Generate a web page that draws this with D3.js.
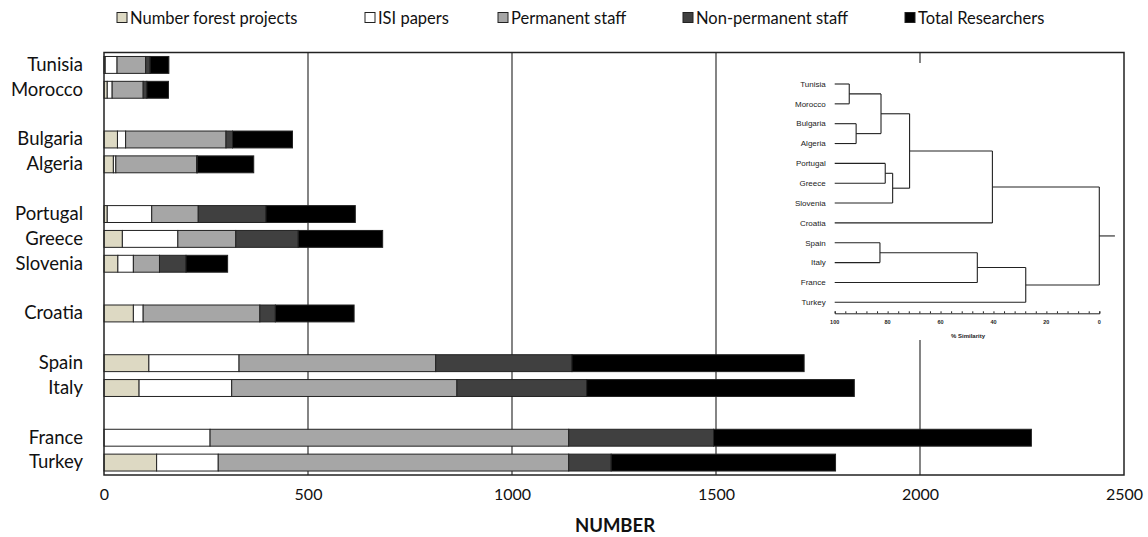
<!DOCTYPE html>
<html><head><meta charset="utf-8">
<script src="https://cdn.jsdelivr.net/npm/d3@7"></script>
<style>
html,body{margin:0;padding:0;background:#fff;}
svg{display:block;}
</style></head>
<body>
<svg id="chart" width="1148" height="537"></svg>
<script>
// ---- Data ----
const categories = ["Tunisia","Morocco","","Bulgaria","Algeria","","Portugal","Greece","Slovenia","","Croatia","","Spain","Italy","","France","Turkey"];
const seriesNames = ["Number forest projects","ISI papers","Permanent staff","Non-permanent staff","Total Researchers"];
const forestProjects = [3, 8, null, 33, 23, null, 8, 45, 34, null, 72, null, 110, 86, null, 0, 129];
const isiPapers      = [29, 12, null, 20, 6, null, 109, 136, 38, null, 24, null, 221, 227, null, 260, 151];
const permanentStaff = [70, 76, null, 246, 198, null, 114, 142, 64, null, 286, null, 482, 552, null, 879, 859];
const nonPermanent   = [11, 9, null, 16, 2, null, 166, 153, 65, null, 38, null, 334, 318, null, 355, 104];
const totalResearch  = [46, 53, null, 147, 138, null, 219, 207, 102, null, 193, null, 569, 656, null, 779, 550];
const xTicks = [0, 500, 1000, 1500, 2000, 2500];

// Dendrogram (inset): leaf order and merge similarities (%)
const dendroLeaves = ["Tunisia","Morocco","Bulgaria","Algeria","Portugal","Greece","Slovenia","Croatia","Spain","Italy","France","Turkey"];
const dendroTree = {sim: 0, children: [
  {sim: 40.4, children: [
    {sim: 71.7, children: [
      {sim: 82.5, children: [
        {sim: 94.5, children: [{name:"Tunisia"},{name:"Morocco"}]},
        {sim: 91.9, children: [{name:"Bulgaria"},{name:"Algeria"}]}
      ]},
      {sim: 78.1, children: [
        {sim: 80.9, children: [{name:"Portugal"},{name:"Greece"}]},
        {name:"Slovenia"}
      ]}
    ]},
    {name:"Croatia"}
  ]},
  {sim: 27.8, children: [
    {sim: 46.1, children: [
      {sim: 82.9, children: [{name:"Spain"},{name:"Italy"}]},
      {name:"France"}
    ]},
    {name:"Turkey"}
  ]}
]};
const simTicks = [100, 80, 60, 40, 20, 0];

// ---- Layout ----
const colors = ["#DDD9C3", "#FFFFFF", "#A6A6A6", "#404040", "#000000"];
const svg = d3.select("#chart");
const M = {left: 104, top: 52.5, right: 24, bottom: 62};
const W = 1148, H = 537;
const x = d3.scaleLinear().domain([0, 2500]).range([M.left, W - M.right]);
const y = d3.scaleBand().domain(d3.range(categories.length)).range([M.top, H - M.bottom])
  .paddingInner(0.32).paddingOuter(0.16);

const FONT = "Lato, 'Open Sans', sans-serif";

// gridlines
svg.append("g").selectAll("line").data(xTicks.slice(1, -1)).join("line")
  .attr("x1", d => x(d)).attr("x2", d => x(d))
  .attr("y1", M.top).attr("y2", H - M.bottom)
  .attr("stroke", "#333").attr("stroke-width", 1.2);

// stacked bars
const rows = categories.map((c, i) => ({i, c, vals: [forestProjects[i], isiPapers[i], permanentStaff[i], nonPermanent[i], totalResearch[i]]}))
  .filter(r => r.c !== "");
const segs = [];
rows.forEach(r => {
  let acc = 0;
  r.vals.forEach((v, k) => { segs.push({i: r.i, k, x0: acc, x1: acc + v}); acc += v; });
});
svg.append("g").selectAll("rect").data(segs.filter(s => s.x1 > s.x0)).join("rect")
  .attr("x", d => x(d.x0)).attr("width", d => x(d.x1) - x(d.x0))
  .attr("y", d => y(d.i)).attr("height", y.bandwidth())
  .attr("fill", d => colors[d.k]).attr("stroke", "#222").attr("stroke-width", 1);

// frame
svg.append("rect").attr("x", M.left).attr("y", M.top)
  .attr("width", W - M.right - M.left).attr("height", H - M.bottom - M.top)
  .attr("fill", "none").attr("stroke", "#222").attr("stroke-width", 1.5);

// x axis labels
const xAxis = d3.axisBottom(x).tickValues(xTicks).tickSize(0).tickPadding(14).tickFormat(d3.format("d"));
const gx = svg.append("g").attr("transform", `translate(0,${H - M.bottom})`).call(xAxis);
gx.select(".domain").remove();
gx.selectAll("text").attr("font-family", FONT).attr("font-size", 16).attr("fill", "#111");

svg.append("text").attr("x", 615).attr("y", 532).attr("text-anchor", "middle")
  .attr("font-family", FONT).attr("font-size", 18.5).attr("font-weight", "bold").attr("fill", "#111").text("NUMBER");

// y labels
const yAxis = d3.axisLeft(y).tickSize(0).tickPadding(21).tickFormat(i => categories[i]);
const gy = svg.append("g").attr("transform", `translate(${M.left},0)`).call(yAxis);
gy.select(".domain").remove();
gy.selectAll("text").attr("font-family", FONT).attr("font-size", 18.5).attr("fill", "#111");

// legend
const legendX = [117, 365, 498, 683, 905];
const lg = svg.append("g").selectAll("g").data(seriesNames).join("g")
  .attr("transform", (d, k) => `translate(${legendX[k]},18)`);
lg.append("rect").attr("x", 0).attr("y", -5.5).attr("width", 10).attr("height", 10)
  .attr("fill", (d, k) => colors[k]).attr("stroke", "#222").attr("stroke-width", 1);
lg.append("text").attr("x", 13).attr("y", 0).attr("dy", "0.35em")
  .attr("font-family", FONT).attr("font-size", 16.5).attr("fill", "#111").text(d => d);

// ---- Dendrogram inset ----
const inset = svg.append("g");
inset.append("rect").attr("x", 745).attr("y", 63).attr("width", 1122 - 745).attr("height", 340 - 63).attr("fill", "#fff");
const sx = d3.scaleLinear().domain([100, 0]).range([834.7, 1099.3]);
const sy = d3.scalePoint().domain(dendroLeaves).range([84, 302.3]);
const root = d3.hierarchy(dendroTree);
root.eachAfter(n => {
  if (!n.children) { n.px = sx(100); n.py = sy(n.data.name); }
  else { n.px = sx(n.data.sim); n.py = d3.mean(n.children, c => c.py); }
});
const DF = "'Liberation Sans', Arial, sans-serif";
const links = [];
root.each(n => {
  if (n.children) {
    n.children.forEach(c => links.push({x1: c.px, y1: c.py, x2: n.px, y2: c.py}));
    links.push({x1: n.px, y1: d3.min(n.children, c => c.py), x2: n.px, y2: d3.max(n.children, c => c.py)});
  }
});
links.push({x1: root.px, y1: root.py, x2: sx(-5.9), y2: root.py});
inset.append("g").selectAll("line").data(links).join("line")
  .attr("x1", d => d.x1).attr("y1", d => d.y1).attr("x2", d => d.x2).attr("y2", d => d.y2)
  .attr("stroke", "#222").attr("stroke-width", 1.1);
inset.append("g").selectAll("text").data(root.leaves()).join("text")
  .attr("x", sx(100) - 9).attr("y", d => d.py).attr("dy", "0.35em").attr("text-anchor", "end")
  .attr("font-family", DF).attr("font-size", 8).attr("fill", "#222").text(d => d.data.name);
// similarity axis
const simAxis = d3.axisBottom(sx).tickValues(d3.range(0, 101, 4)).tickSize(-2).tickFormat("");
const ga = inset.append("g").attr("transform", "translate(0,313.3)").call(simAxis);
ga.select(".domain").attr("stroke", "#222");
ga.selectAll(".tick line").attr("stroke", "#222");
inset.append("g").selectAll("text").data(simTicks).join("text")
  .attr("x", d => sx(d)).attr("y", 322).attr("dy", "0.35em").attr("text-anchor", "middle")
  .attr("font-family", DF).attr("font-size", 5.5).attr("font-weight", "bold").attr("fill", "#222").text(d => d);
inset.append("text").attr("x", 968).attr("y", 336).attr("dy", "0.35em").attr("text-anchor", "middle")
  .attr("font-family", DF).attr("font-size", 6).attr("font-weight", "bold").attr("fill", "#222").text("% Similarity");
</script>
</body></html>
